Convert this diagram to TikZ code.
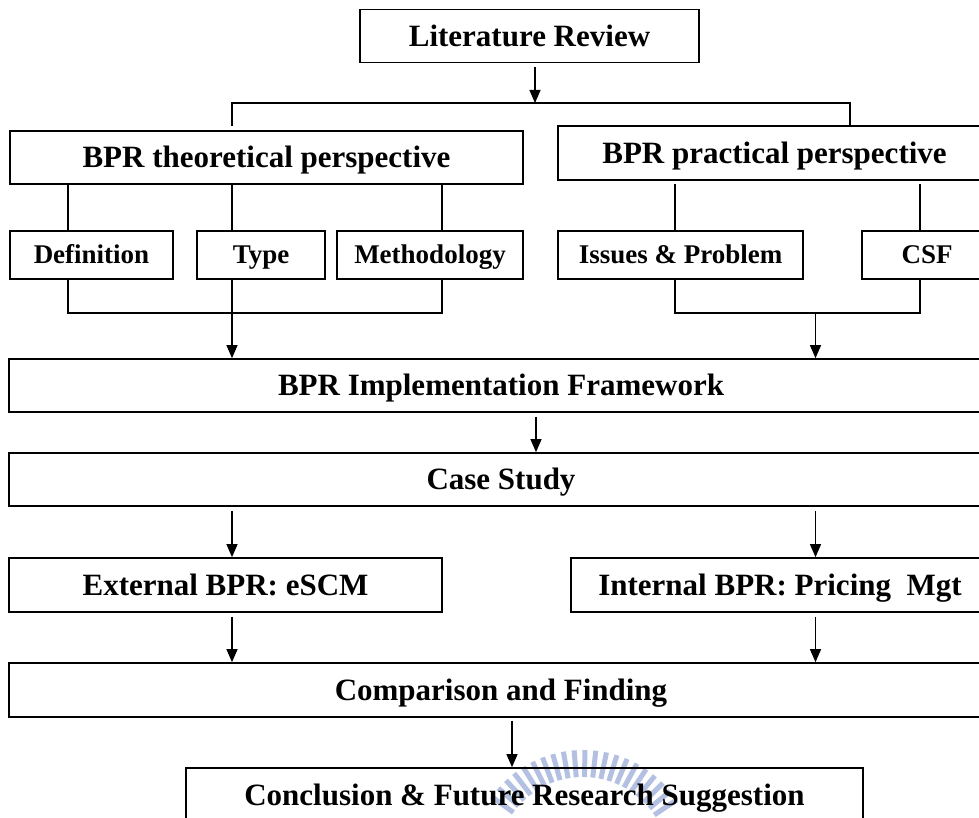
\documentclass[tikz,border=0pt]{standalone}
\usepackage{fontspec}
\setmainfont{Liberation Serif}
\usetikzlibrary{arrows.meta}
\definecolor{wmark}{RGB}{180,192,226}
\begin{document}
\begin{tikzpicture}[x=1pt,y=-1pt,
  box/.style={draw, line width=1.7pt, inner sep=0pt,
    font=\fontsize{31}{36}\selectfont\bfseries,
    text height=20.5pt, text depth=0pt, minimum height=53pt},
  subbox/.style={box, font=\fontsize{27}{32}\selectfont\bfseries,
    text height=17.9pt, minimum height=48pt},
  link/.style={line width=1.2pt},
  flow/.style={link, -{Triangle[length=13pt,width=11pt]}},
]
\useasboundingbox (0,0) rectangle (979,818);
\clip (0,0) rectangle (979,818);
\fill[white] (0,0) rectangle (979,818);

% faint emblem behind the last box
\foreach \a in {34,39.5,...,146}
  \draw[wmark, line width=5pt] ([shift={(583,863)}]-\a:86) -- ([shift={(583,863)}]-\a:113);

% boxes
\node[box, minimum width=339pt] (lit) at (529.5,36) {Literature Review};
\node[box, minimum width=513pt] (theo) at (266.5,157.5) {BPR theoretical perspective};
\node[box, minimum width=433pt, minimum height=54pt] (prac) at (774.5,153) {BPR practical perspective};
\node[subbox, minimum width=163pt] (def) at (91.5,255) {Definition};
\node[subbox, minimum width=128pt] (type) at (261,255) {Type};
\node[subbox, minimum width=186pt] (meth) at (430,255) {Methodology};
\node[subbox, minimum width=245pt] (iss) at (680.5,255) {Issues \& Problem};
\node[subbox, minimum width=130pt] (csf) at (927,255) {CSF};
\node[box, minimum width=984pt] (impl) at (501,385.5) {BPR Implementation Framework};
\node[box, minimum width=984pt] (case) at (501,479.5) {Case Study};
\node[box, minimum width=433pt, minimum height=54pt] (ext) at (225.5,585) {External BPR: eSCM};
\node[box, minimum width=418pt, minimum height=54pt] (int) at (780,585) {Internal BPR: Pricing\ \ Mgt};
\node[box, minimum width=984pt, minimum height=54pt] (comp) at (501,690) {Comparison and Finding};
\node[box, minimum width=677pt, minimum height=54pt] (concl) at (524.5,795) {Conclusion \& Future Research Suggestion};

% connector columns and rows
\coordinate (xa) at (68,0);
\coordinate (xb) at (232,0);
\coordinate (xc) at (442,0);
\coordinate (xd) at (675,0);
\coordinate (xe) at (920,0);
\coordinate (xf) at (815.5,0);
\coordinate (xg) at (535,0);
\coordinate (xh) at (536,0);
\coordinate (xj) at (512,0);
\coordinate (xk) at (850,0);
\coordinate (ysplit) at (0,103);
\coordinate (ymerge) at (0,313);

% literature review splits into the two perspectives
\draw[flow, shorten <=4pt] (lit.south -| xg) -- (xg |- ysplit);
\draw[link, shorten <=4pt] (theo.north -| xb) -- (xb |- ysplit) -- (xk |- ysplit) -- (prac.north -| xk);

% theoretical perspective branches
\draw[link] (theo.south -| xa) -- (def.north -| xa);
\draw[link] (theo.south -| xb) -- (type.north -| xb);
\draw[link] (theo.south -| xc) -- (meth.north -| xc);
\draw[link] (def.south -| xa) -- (xa |- ymerge) -- (xc |- ymerge) -- (meth.south -| xc);
\draw[flow] (type.south -| xb) -- (impl.north -| xb);

% practical perspective branches
\draw[link, shorten <=3pt] (prac.south -| xd) -- (iss.north -| xd);
\draw[link, shorten <=3pt] (prac.south -| xe) -- (csf.north -| xe);
\draw[link] (iss.south -| xd) -- (xd |- ymerge) -- (xe |- ymerge) -- (csf.south -| xe);
\draw[flow] (xf |- ymerge) -- (impl.north -| xf);

% main flow
\draw[flow, shorten <=4pt] (impl.south -| xh) -- (case.north -| xh);
\draw[flow, shorten <=4pt] (case.south -| xb) -- (ext.north -| xb);
\draw[flow, shorten <=4pt] (case.south -| xf) -- (int.north -| xf);
\draw[flow, shorten <=4pt] (ext.south -| xb) -- (comp.north -| xb);
\draw[flow, shorten <=4pt] (int.south -| xf) -- (comp.north -| xf);
\draw[flow, shorten <=3pt] (comp.south -| xj) -- (concl.north -| xj);
\end{tikzpicture}
\end{document}
